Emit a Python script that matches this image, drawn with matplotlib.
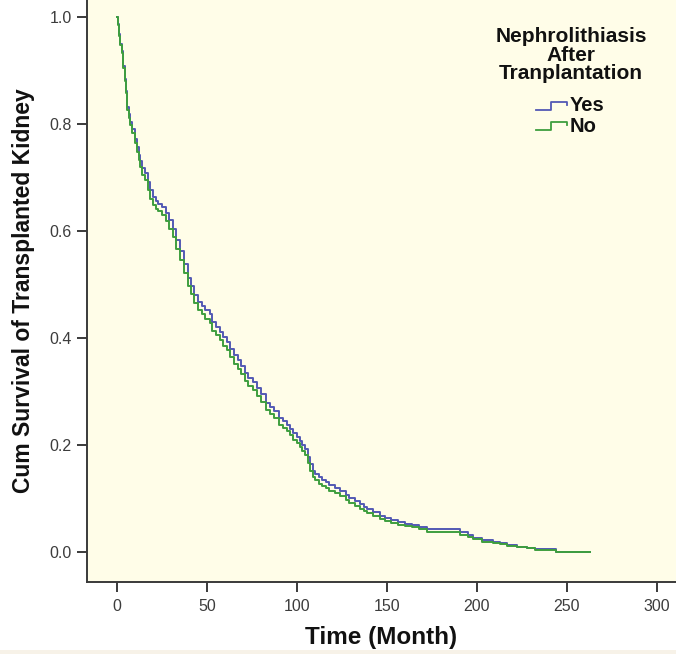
import matplotlib
matplotlib.use("Agg")
import matplotlib.pyplot as plt
from matplotlib.lines import Line2D
from matplotlib.legend_handler import HandlerBase
from matplotlib.patches import Rectangle

# ---------------- data ----------------
time_no = [0, 0.5, 1, 1.5, 2.5, 3.5, 4.2, 4.8, 5.7, 6.5, 7.5, 8.5, 10, 11, 12, 12.8,
           14, 15.6, 17, 18.5, 20, 21.5, 23, 25, 27, 29, 31, 33, 35, 37, 39.4, 41,
           43, 45, 47, 49, 51.7, 53, 55, 57, 59, 61, 63, 65, 67, 69, 71, 73, 75.6,
           78, 80, 83, 85, 87, 90, 92, 94.4, 96, 98, 100, 101.7, 103, 104.4, 106,
           107.5, 109, 110, 112, 114, 116, 118, 121, 124, 127, 129, 132, 135, 137,
           139, 142, 146, 149, 152, 156, 160, 164, 168, 172, 180, 190.5, 195, 198,
           203, 209, 213, 216.5, 222, 228, 232, 244, 262.8]
surv_no = [1.000, 0.985, 0.965, 0.948, 0.933, 0.905, 0.880, 0.858, 0.826, 0.812,
           0.798, 0.783, 0.764, 0.748, 0.733, 0.720, 0.705, 0.695, 0.676, 0.660,
           0.648, 0.642, 0.637, 0.630, 0.618, 0.604, 0.588, 0.567, 0.545, 0.522,
           0.498, 0.482, 0.466, 0.452, 0.444, 0.436, 0.428, 0.414, 0.405, 0.396,
           0.386, 0.378, 0.364, 0.352, 0.343, 0.333, 0.320, 0.311, 0.303, 0.292,
           0.281, 0.265, 0.258, 0.250, 0.238, 0.232, 0.226, 0.218, 0.210, 0.203,
           0.196, 0.188, 0.181, 0.166, 0.152, 0.140, 0.134, 0.128, 0.123, 0.119,
           0.115, 0.110, 0.104, 0.097, 0.092, 0.086, 0.081, 0.076, 0.073, 0.068,
           0.061, 0.058, 0.055, 0.051, 0.048, 0.046, 0.043, 0.038, 0.037, 0.032,
           0.028, 0.024, 0.019, 0.017, 0.015, 0.011, 0.009, 0.007, 0.004, 0.000,
           0.000]

time_yes = list(time_no)
surv_yes = [1.000, 0.987, 0.968, 0.950, 0.936, 0.909, 0.884, 0.862, 0.831, 0.818,
            0.804, 0.790, 0.772, 0.757, 0.743, 0.731, 0.718, 0.708, 0.692, 0.676,
            0.663, 0.656, 0.651, 0.645, 0.634, 0.620, 0.604, 0.584, 0.562, 0.538,
            0.513, 0.497, 0.481, 0.467, 0.459, 0.452, 0.444, 0.430, 0.421, 0.411,
            0.401, 0.393, 0.379, 0.368, 0.358, 0.348, 0.335, 0.325, 0.317, 0.306,
            0.295, 0.279, 0.271, 0.263, 0.251, 0.244, 0.238, 0.230, 0.222, 0.215,
            0.208, 0.200, 0.193, 0.178, 0.164, 0.152, 0.146, 0.140, 0.135, 0.130,
            0.126, 0.120, 0.114, 0.106, 0.101, 0.095, 0.089, 0.084, 0.080, 0.075,
            0.068, 0.064, 0.060, 0.056, 0.053, 0.050, 0.047, 0.043, 0.043, 0.037,
            0.032, 0.027, 0.022, 0.019, 0.016, 0.013, 0.010, 0.008, 0.005, 0.001,
            0.001]

x_ticks = [0, 50, 100, 150, 200, 250, 300]
y_ticks = [0.0, 0.2, 0.4, 0.6, 0.8, 1.0]
series_labels = ["Yes", "No"]
legend_title = "Nephrolithiasis\nAfter\nTranplantation"
x_label = "Time (Month)"
y_label = "Cum Survival of Transplanted Kidney"

# ---------------- style ----------------
plt.rcParams['font.family'] = ['Liberation Sans', 'DejaVu Sans']
color_yes = '#5359B4'
color_no = '#3E9E3E'
bg_color = '#FFFDE8'
axis_color = '#3A3A3A'

W, H = 676, 654
fig = plt.figure(figsize=(W / 100, H / 100), dpi=100, facecolor='white')
ax = fig.add_axes([87 / W, (H - 582) / H, (W - 87) / W, 582 / H])
ax.set_facecolor(bg_color)

ax.plot(time_yes, surv_yes, drawstyle='steps-post', color=color_yes, lw=1.4,
        label=series_labels[0], zorder=3)
ax.plot(time_no, surv_no, drawstyle='steps-post', color=color_no, lw=1.4,
        label=series_labels[1], zorder=3)

ax.set_xlim(-16.67, 310.6)
ax.set_ylim(-0.056, 1.0318)
ax.set_xticks(x_ticks)
ax.set_yticks(y_ticks)
ax.set_yticklabels([f"{v:.1f}" for v in y_ticks])

for s in ['top', 'right']:
    ax.spines[s].set_visible(False)
for s in ['left', 'bottom']:
    ax.spines[s].set_color(axis_color)
    ax.spines[s].set_linewidth(1.4)
ax.tick_params(axis='both', direction='out', length=7, width=1.4, color=axis_color,
               labelsize=11.5, labelcolor='#3C3C3C', pad=4)
ax.tick_params(axis='x', pad=5)

ax.set_xlabel(x_label, fontsize=17.5, fontweight='bold', color='#111111', labelpad=9)
ax.set_ylabel(y_label, fontsize=16.5, fontweight='bold', color='#111111', labelpad=10)


class StepHandler(HandlerBase):
    def create_artists(self, legend, orig_handle, xdescent, ydescent, width, height,
                       fontsize, trans):
        x0, x1 = -xdescent, -xdescent + width
        y0 = -ydescent + height * 0.1
        y1 = -ydescent + height * 0.65
        xm = x0 + width * 0.5
        xs = [x0, xm, xm, x1, x1]
        ys = [y0, y0, y1, y1, y1 - height * 0.22]
        ln = Line2D(xs, ys, color=orig_handle.get_color(), lw=1.3, transform=trans)
        return [ln]


# legend title (three centred bold lines)
fig.text(571 / W, 1 - 27 / H, legend_title, ha='center', va='top', fontsize=15,
         fontweight='bold', color='#111111', multialignment='center', linespacing=0.97)

handles, labels = ax.get_legend_handles_labels()
leg = fig.legend(handles, labels, loc='center',
                 bbox_to_anchor=(570 / W, 1 - 116 / H), frameon=False,
                 handler_map={Line2D: StepHandler()},
                 prop={'weight': 'bold', 'size': 14.5},
                 handlelength=1.55, handletextpad=0.15, labelspacing=0.05,
                 borderpad=0)
for t in leg.get_texts():
    t.set_color('#111111')

# faint strip at the very bottom of the image
fig.patches.append(Rectangle((0, 0), 1, 4 / H, transform=fig.transFigure,
                             facecolor='#F7F2E8', edgecolor='none'))

fig.savefig('out.png', dpi=100, facecolor='white')
